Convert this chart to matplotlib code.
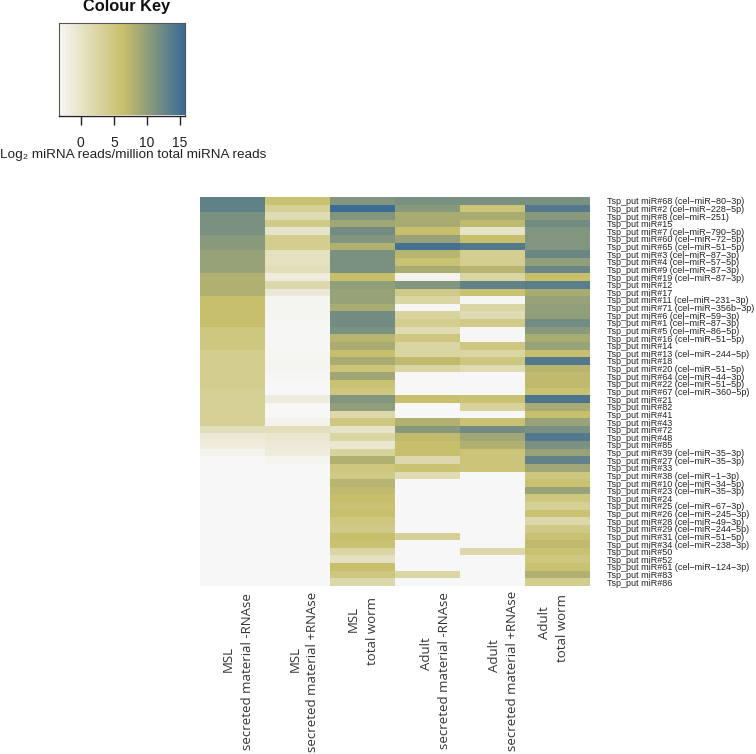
import numpy as np
import matplotlib
matplotlib.use("Agg")
import matplotlib.pyplot as plt
from matplotlib.colors import LinearSegmentedColormap

row_labels = ["Tsp_put miR#68 (cel-miR-80-3p)","Tsp_put miR#2 (cel-miR-228-5p)","Tsp_put miR#8 (cel-miR-251)","Tsp_put miR#15",
"Tsp_put miR#7 (cel-miR-790-5p)","Tsp_put miR#60 (cel-miR-72-5p)","Tsp_put miR#65 (cel-miR-51-5p)","Tsp_put miR#3 (cel-miR-87-3p)",
"Tsp_put miR#4 (cel-miR-57-5p)","Tsp_put miR#9 (cel-miR-87-3p)","Tsp_put miR#19 (cel-miR-87-3p)","Tsp_put miR#12","Tsp_put miR#17",
"Tsp_put miR#11 (cel-miR-231-3p)","Tsp_put miR#71 (cel-miR-356b-3p)","Tsp_put miR#6 (cel-miR-59-3p)","Tsp_put miR#1 (cel-miR-87-3p)",
"Tsp_put miR#5 (cel-miR-86-5p)","Tsp_put miR#16 (cel-miR-51-5p)","Tsp_put miR#14","Tsp_put miR#13 (cel-miR-244-5p)","Tsp_put miR#18",
"Tsp_put miR#20 (cel-miR-51-5p)","Tsp_put miR#64 (cel-miR-44-3p)","Tsp_put miR#22 (cel-miR-51-5p)","Tsp_put miR#67 (cel-miR-360-5p)",
"Tsp_put miR#21","Tsp_put miR#82","Tsp_put miR#41","Tsp_put miR#43","Tsp_put miR#72","Tsp_put miR#48","Tsp_put miR#85",
"Tsp_put miR#39 (cel-miR-35-3p)","Tsp_put miR#27 (cel-miR-35-3p)","Tsp_put miR#33","Tsp_put miR#38 (cel-miR-1-3p)",
"Tsp_put miR#10 (cel-miR-34-5p)","Tsp_put miR#23 (cel-miR-35-3p)","Tsp_put miR#24","Tsp_put miR#25 (cel-miR-67-3p)",
"Tsp_put miR#26 (cel-miR-245-3p)","Tsp_put miR#28 (cel-miR-49-3p)","Tsp_put miR#29 (cel-miR-244-5p)","Tsp_put miR#31 (cel-miR-51-5p)",
"Tsp_put miR#34 (cel-miR-238-3p)","Tsp_put miR#50","Tsp_put miR#52","Tsp_put miR#61 (cel-miR-124-3p)","Tsp_put miR#83","Tsp_put miR#86"]
row_labels = [s.replace("-", "\u2212") for s in row_labels]
col_stage = ["MSL","MSL","MSL","Adult","Adult","Adult"]
col_sample = ["secreted material -RNAse","secreted material +RNAse","total worm",
              "secreted material -RNAse","secreted material +RNAse","total worm"]

L = -3.3
msl_minus = [13.2,13.2,11.5,11.5,11.5,10.5,10.5,9.5,9.5,9.5,8,8,8,6.5,6.5,6.5,6.5,5,5,5,4,4,4,4,4,3.5,3.5,3.5,3.5,3.5,1,-1,-1.5,-2.5]+[L]*17
msl_plus = [6,3.5,1.5,4.5,0,4,4,.5,.5,1,-1.5,2,-1,-2.8,-2.8,-2.8,-3.1,-3.1,-3.1,-3.1,-3,-2.8,-2.8,-3.2,L,L,-1.5,L,L,-2.5,1,-.5,-1,-1.5,-2.8]+[L]*16
msl_total = [11,15.5,11,9,12,11,8,11.5,11.5,11.5,6.5,10,9.5,9.5,8.5,12,12,11.5,7.5,8.5,6.5,8.5,5.5,9,6,5,11,10,2,5,0,2.5,-.5,3,8,5,4.5,7.5,7,6.5,6,6.5,5,4.5,6.5,6,2.5,.5,6.5,5,2]
adult_minus = [11.5,10.5,8.5,8.5,6.5,9.5,15,7.5,6,8.5,-2.5,11,4.5,2.5,-3,3,4,1.5,5,2.5,2.5,7,2.5,L,L,L,6.5,L,L,8,10.5,7,6.5,6.5,2,6,1.5,L,L,L,L,L,L,L,3.5,L,L,L,L,2.5,L]
adult_plus = [11.5,5.5,8.5,7,0,6.5,14,3.8,3.8,7.5,2.5,13,6,-3,2.5,1.5,4.5,-3.2,-3.2,5,2.5,5,1.5,L,L,L,6,3,L,6,12,9,8,5.5,5.5,5.5,L,L,L,L,L,L,L,L,L,L,2,L,L,L,L]
adult_total = [11.5,14,10.5,12,11,11,11,12.5,10,12.5,6.5,13.5,8.5,9.5,10,10,12,10.5,8.5,9.5,6.5,14,7.5,7,7,6,14.5,8.5,6.5,9.5,11.5,14,11.5,9.5,13,9,5,6,9.5,5,3.5,6,2,4.5,6,7,6,5,6,8,4]
key_ticks = [0,5,10,15]

plt.rcParams['font.family'] = ['Liberation Sans', 'DejaVu Sans']
W, H = 756, 754
fig = plt.figure(figsize=(W/100, H/100), dpi=100)
def axpx(x0, y0, x1, y1):
    return fig.add_axes([x0/W, 1-y1/H, (x1-x0)/W, (y1-y0)/H])

vmin, vmax = -3.3, 15.75
cmap = LinearSegmentedColormap.from_list("k", [(0, "#f7f7f7"), (9.8/19.05, "#c7bf6b"), (1, "#3a6a94")])
data = np.array([msl_minus, msl_plus, msl_total, adult_minus, adult_plus, adult_total]).T

ax = axpx(200, 197, 590, 586)
ax.imshow(data, aspect="auto", cmap=cmap, vmin=vmin, vmax=vmax, interpolation="nearest")
for s in ax.spines.values():
    s.set_visible(False)
ax.yaxis.tick_right()
ax.set_yticks(range(len(row_labels)), row_labels, fontsize=6.5, color="#222222")
ax.tick_params(axis="y", length=0, pad=12)
ax.set_xticks([])

label_font = dict(family="Open Sans", fontsize=9.5, rotation=90, ha="center", va="center", color="#333333")
stage_x = [228, 295, 353, 427, 495, 545]
stage_y = [659, 659, 619, 654, 656, 623]
sample_x = [247, 313, 372, 445, 513, 563]
sample_y = [672, 672, 631, 671, 671, 628]
for i in range(6):
    fig.text(stage_x[i]/W, 1-stage_y[i]/H, col_stage[i], **label_font)
    fig.text(sample_x[i]/W, 1-sample_y[i]/H, col_sample[i], **label_font)

k = axpx(59, 23, 185, 115.5)
k.imshow(np.linspace(vmin, vmax, 256)[None, :], aspect="auto", cmap=cmap, vmin=vmin, vmax=vmax, extent=[vmin, vmax, 0, 1])
k.set_yticks([])
k.set_xticks(key_ticks)
k.tick_params(axis="x", length=6.5, width=1, labelsize=10, pad=8, color="#222222", labelcolor="#222222")
for s in k.spines.values():
    s.set_color("#555555"); s.set_linewidth(0.8)
k.spines["bottom"].set_color("#222222"); k.spines["bottom"].set_linewidth(1)
fig.text(126.5/W, 1-7/H, "Colour Key", ha="center", va="center", fontsize=11.8, fontweight="bold", color="#111111")
fig.text(133.5/W, 1-155/H, "Log\u2082 miRNA reads/million total miRNA reads", ha="center", va="center", fontsize=9.7, color="#222222")
fig.savefig("out.png", dpi=100)
